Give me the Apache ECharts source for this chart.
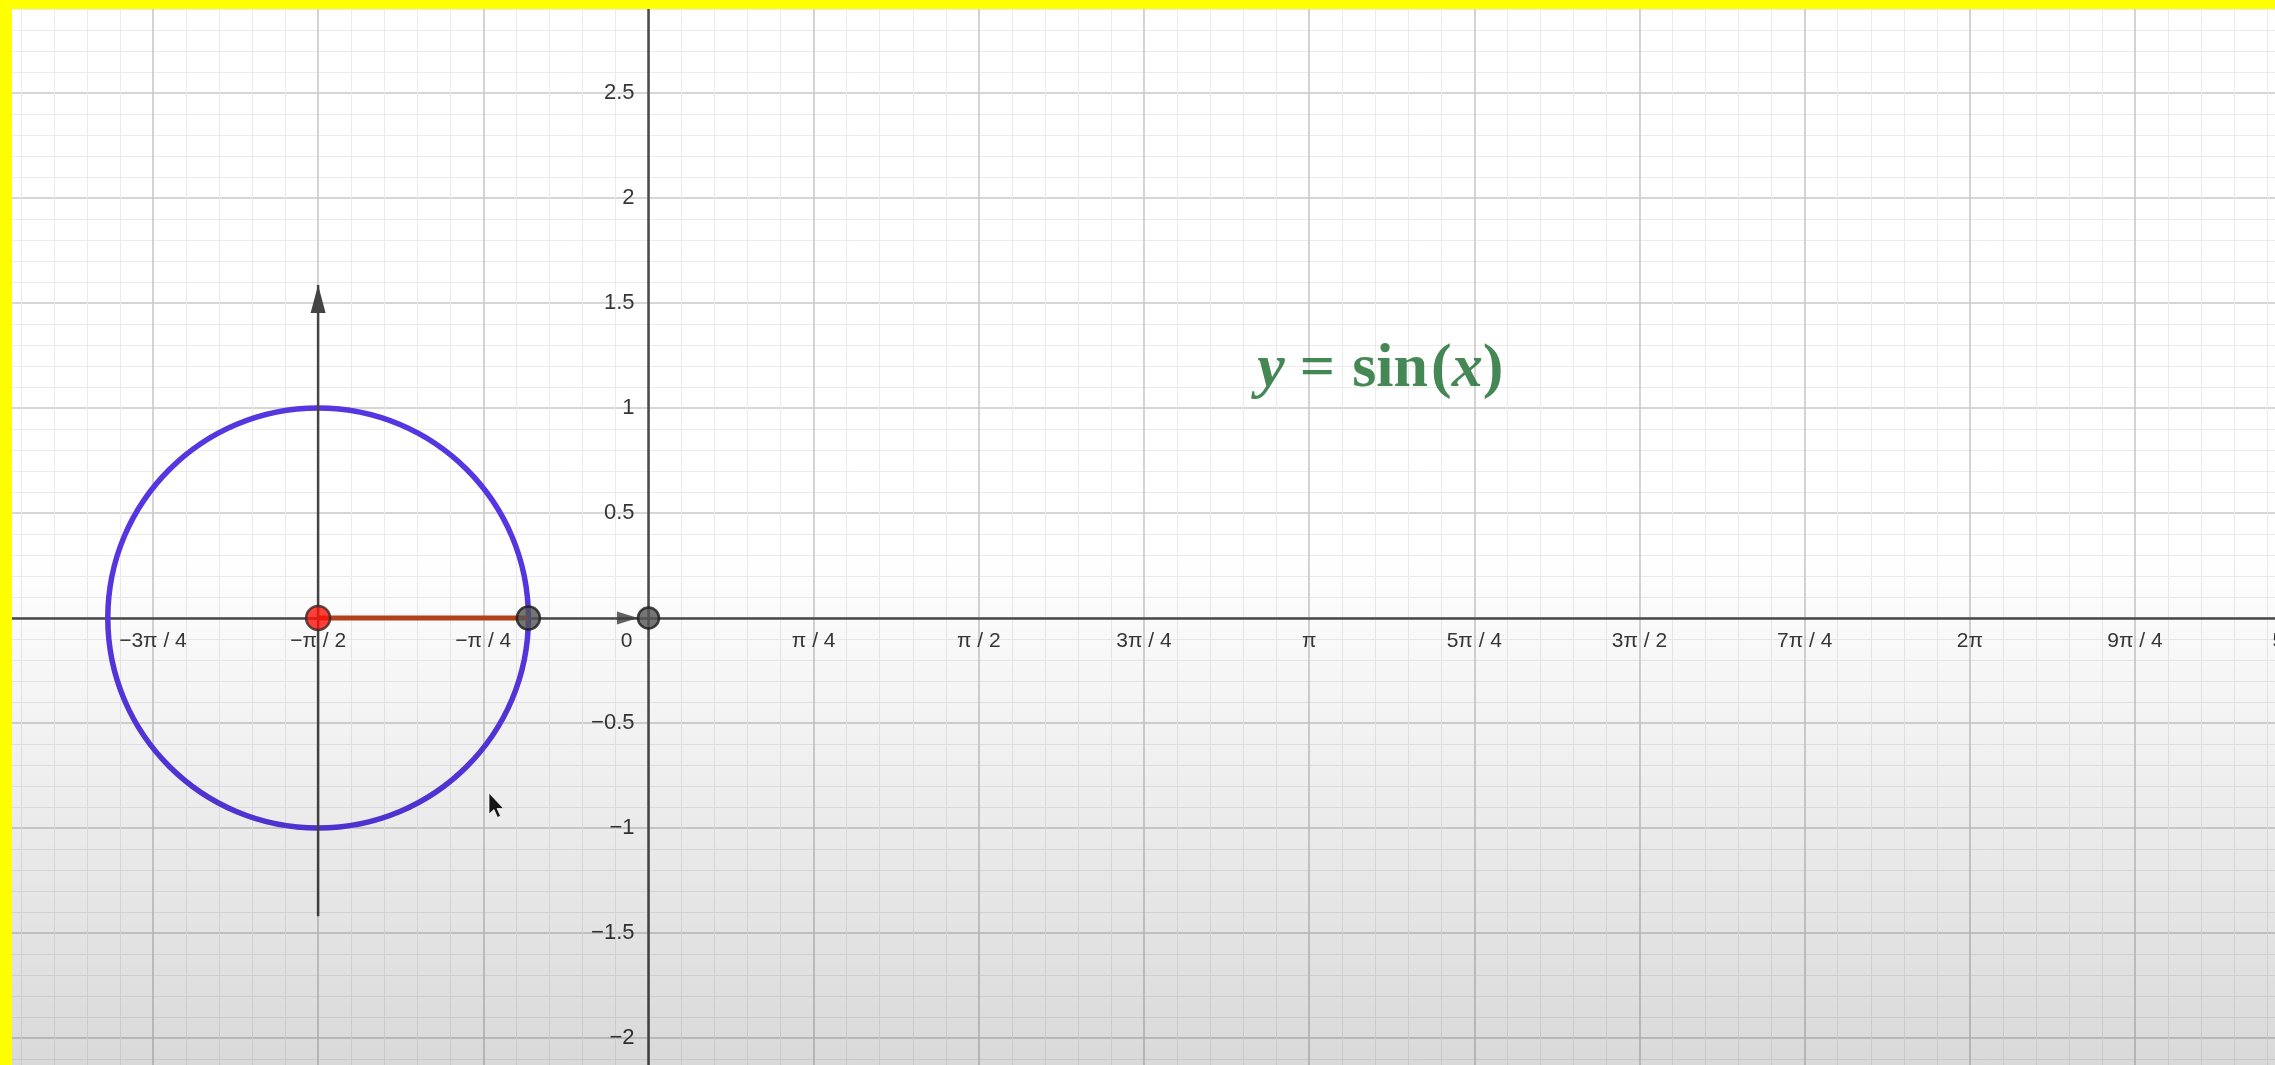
<!DOCTYPE html>
<html>
<head>
<meta charset="utf-8">
<title>y = sin(x)</title>
<script src="https://cdn.jsdelivr.net/npm/echarts@6/dist/echarts.min.js"></script>
<style>
  html, body { margin: 0; padding: 0; background: #ffffff; }
  #chart { width: 2275px; height: 1065px; }
</style>
</head>
<body>
<div id="chart"></div>
<script>
// ---- axis ticks -------------------------------------------------------
// x ticks are multiples of pi/4, starting at -4·(pi/4)
const xTickFirstMultiple = -4;
const xTickLabels = ['−π', '−3π / 4', '−π / 2', '−π / 4', '0', 'π / 4', 'π / 2', '3π / 4',
                     'π', '5π / 4', '3π / 2', '7π / 4', '2π', '9π / 4', '5π / 2'];
// y ticks every 0.5 from -2.5 to 3 (origin label is shared with the x axis)
const yTickValues = [-2.5, -2, -1.5, -1, -0.5, 0, 0.5, 1, 1.5, 2, 2.5, 3];
const yTickLabels = ['−2.5', '−2', '−1.5', '−1', '−0.5', '', '0.5', '1', '1.5', '2', '2.5', '3'];

// ---- geometry ----------------------------------------------------------
// unit circle: centre x, centre y, radius
const unitCircle = [[-1.571, 0, 1]];
// vertical axis of the circle, drawn with an arrow head at the top
const circleAxis = [[-1.571, -1.42], [-1.571, 1.586]];
// radius along the x axis
const radiusSegment = [[-1.571, 0], [-0.571, 0]];
// points
const centrePoint = [[-1.571, 0]];
const radiusEndPoint = [[-0.571, 0]];
const originPoint = [[0, 0]];
// small vector head just left of the origin
const vectorHead = [[-0.1, 0]];
// where the formula is written
const formulaAnchor = [[3.48, 1.18]];

const QUARTER_PI = Math.PI / 4;
const X_MIN = xTickFirstMultiple * QUARTER_PI;
const X_MAX = (xTickFirstMultiple + xTickLabels.length - 1) * QUARTER_PI;
const Y_MIN = yTickValues[0];
const Y_MAX = yTickValues[yTickValues.length - 1];
const LABEL_FONT = '"Liberation Sans", Arial, sans-serif';
const LABEL_COLOR = '#363636';
const FORMULA_FONT = '"Liberation Serif", "DejaVu Serif", serif';
const FORMULA_COLOR = '#176a2a';
const FORMULA_SIZE = 62;

const chart = echarts.init(document.getElementById('chart'), null, { renderer: 'canvas' });

const option = {
  animation: false,
  backgroundColor: '#ffffff',
  grid: {
    left: -12.2,
    right: -25.2,
    top: -12,
    bottom: -78,
    containLabel: false,
    outerBoundsMode: 'none'
  },
  xAxis: {
    type: 'value',
    position: 'bottom',
    min: X_MIN,
    max: X_MAX,
    interval: QUARTER_PI,
    axisLine: { onZero: false, lineStyle: { color: '#4a4a4a', width: 2.5 } },
    axisTick: { show: false },
    minorTick: { show: false, splitNumber: 5 },
    splitLine: { show: true, lineStyle: { color: '#c9c9c9', width: 1.6 } },
    minorSplitLine: { show: true, lineStyle: { color: '#ebebeb', width: 1 } },
    axisLabel: {
      margin: 13,
      fontFamily: LABEL_FONT,
      fontSize: 21,
      color: LABEL_COLOR,
      showMinLabel: true,
      showMaxLabel: true,
      hideOverlap: false,
      formatter: function (v) {
        const k = Math.round(v / QUARTER_PI);
        const txt = xTickLabels[k - xTickFirstMultiple];
        if (txt === undefined) return '';
        if (k === 0) return '{o|' + txt + '}';
        return txt;
      },
      rich: {
        o: { padding: [0, 44, 0, 0], fontFamily: LABEL_FONT, fontSize: 21, color: LABEL_COLOR }
      }
    }
  },
  yAxis: {
    type: 'value',
    position: 'left',
    min: Y_MIN,
    max: Y_MAX,
    interval: 0.5,
    axisLine: { onZero: false, lineStyle: { color: '#4a4a4a', width: 2.5 } },
    axisTick: { show: false },
    minorTick: { show: false, splitNumber: 5 },
    splitLine: { show: true, lineStyle: { color: '#c9c9c9', width: 1.6 } },
    minorSplitLine: { show: true, lineStyle: { color: '#ebebeb', width: 1 } },
    axisLabel: {
      margin: 14,
      fontFamily: LABEL_FONT,
      fontSize: 22,
      color: LABEL_COLOR,
      showMinLabel: true,
      showMaxLabel: true,
      hideOverlap: false,
      formatter: function (v) {
        const i = yTickValues.findIndex(t => Math.abs(t - v) < 1e-9);
        return i < 0 ? '' : yTickLabels[i];
      }
    }
  },
  series: [
    {
      name: 'unit circle',
      type: 'custom',
      coordinateSystem: 'cartesian2d',
      silent: true,
      z: 3,
      data: unitCircle,
      renderItem: function (params, api) {
        const c = api.coord([api.value(0), api.value(1)]);
        const r = api.size([api.value(2), api.value(2)]);
        return {
          type: 'ellipse',
          shape: { cx: c[0], cy: c[1], rx: r[0], ry: r[1] },
          style: { fill: 'none', stroke: '#5536e0', lineWidth: 5.5 }
        };
      }
    },
    {
      name: 'circle axis',
      type: 'line',
      silent: true,
      z: 4,
      lineStyle: { color: '#444444', width: 2.5 },
      itemStyle: { color: '#444444' },
      data: circleAxis.map((p, i) => i === circleAxis.length - 1
        ? { value: p, symbol: 'triangle', symbolSize: [15, 28], symbolOffset: [0, '50%'] }
        : { value: p, symbol: 'none' })
    },
    {
      name: 'radius',
      type: 'line',
      silent: true,
      z: 5,
      symbol: 'none',
      lineStyle: { color: '#b4421a', width: 5 },
      data: radiusSegment
    },
    {
      name: 'vector head',
      type: 'scatter',
      silent: true,
      z: 5,
      symbol: 'triangle',
      symbolSize: [13, 21],
      symbolRotate: -90,
      itemStyle: { color: '#3d3d3d' },
      data: vectorHead
    },
    {
      name: 'centre',
      type: 'scatter',
      silent: true,
      z: 6,
      symbolSize: 24,
      itemStyle: { color: '#ff1208', borderColor: '#3a2626', borderWidth: 2.5 },
      data: centrePoint
    },
    {
      name: 'radius end',
      type: 'scatter',
      silent: true,
      z: 6,
      symbolSize: 23,
      itemStyle: { color: '#555555', borderColor: '#1c1c1c', borderWidth: 2.5 },
      data: radiusEndPoint
    },
    {
      name: 'origin',
      type: 'scatter',
      silent: true,
      z: 6,
      symbolSize: 21,
      itemStyle: { color: '#555555', borderColor: '#1c1c1c', borderWidth: 2.5 },
      data: originPoint
    },
    {
      name: 'formula',
      type: 'scatter',
      silent: true,
      z: 7,
      symbolSize: 1,
      itemStyle: { color: 'rgba(0,0,0,0)' },
      data: formulaAnchor,
      label: {
        show: true,
        position: 'inside',
        formatter: '{i|y}{e|=}{b|sin}{r|(}{i|x}{r|)}',
        rich: {
          i: { fontFamily: FORMULA_FONT, fontStyle: 'italic', fontWeight: 'bold', fontSize: FORMULA_SIZE, color: FORMULA_COLOR },
          e: { fontFamily: FORMULA_FONT, fontWeight: 'bold', fontSize: FORMULA_SIZE, color: FORMULA_COLOR, padding: [0, 17, 0, 15] },
          r: { fontFamily: FORMULA_FONT, fontWeight: 'bold', fontSize: FORMULA_SIZE, color: FORMULA_COLOR },
          b: { fontFamily: FORMULA_FONT, fontWeight: 'bold', fontSize: FORMULA_SIZE, color: FORMULA_COLOR, padding: [0, 3, 0, 0] }
        }
      }
    }
  ],
  graphic: [
    {
      // darkening towards the bottom of the frame
      type: 'rect',
      silent: true,
      z: 100,
      shape: { x: 0, y: 0, width: 2275, height: 1065 },
      style: {
        fill: {
          type: 'linear', x: 0, y: 0, x2: 0, y2: 1,
          colorStops: [
            { offset: 0, color: 'rgba(0,0,0,0)' },
            { offset: 0.52, color: 'rgba(0,0,0,0)' },
            { offset: 1, color: 'rgba(0,0,0,0.15)' }
          ]
        }
      }
    },
    {
      // mouse pointer
      type: 'polygon',
      silent: true,
      z: 101,
      x: 489,
      y: 793,
      shape: { points: [[0, 0], [0, 21], [5, 16.5], [8.5, 24.5], [11.5, 23], [8, 15.5], [14.5, 15.5]] },
      style: { fill: '#151515', stroke: 'rgba(255,255,255,0.7)', lineWidth: 1 }
    },
    {
      type: 'rect', silent: true, z: 102,
      shape: { x: 0, y: 0, width: 2275, height: 9 },
      style: { fill: '#ffff00' }
    },
    {
      type: 'rect', silent: true, z: 102,
      shape: { x: 0, y: 0, width: 12, height: 1065 },
      style: { fill: '#ffff00' }
    }
  ]
};

chart.setOption(option);

// Move both axes (line and labels) so that they cross at the origin.
const origin = chart.convertToPixel({ gridIndex: 0 }, [0, 0]);
const corner = chart.convertToPixel({ gridIndex: 0 }, [X_MIN, Y_MIN]);
chart.setOption({
  xAxis: { offset: origin[1] - corner[1] },
  yAxis: { offset: corner[0] - origin[0] }
});
</script>
</body>
</html>
